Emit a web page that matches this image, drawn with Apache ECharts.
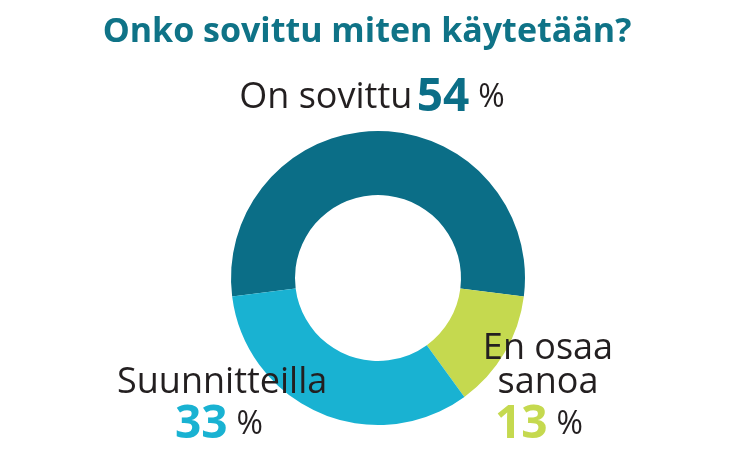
<!DOCTYPE html><html><head><meta charset="utf-8"><script src="https://cdn.jsdelivr.net/npm/echarts@6/dist/echarts.min.js"></script></head><body style="margin:0"><div id="c" style="width:734px;height:459px"></div><script>
const categories=['On sovittu','En osaa sanoa','Suunnitteilla'];
const values=[54,13,33];
const colors=['#0b6e87','#c5d94f','#19b2d2'];
const ch=echarts.init(document.getElementById('c'));
const R={t:{fontSize:36,fill:'#231f20',fontFamily:'Open Sans'},n:{fontSize:46,fontWeight:'bold',fontFamily:'Open Sans'},p:{fontSize:32,fill:'#231f20',fontFamily:'Open Sans'},s:{fontSize:16}};
const rich=c=>({t:R.t,p:R.p,s:R.s,n:Object.assign({},R.n,{fill:c})});
ch.setOption({
title:{text:'Onko sovittu miten käytetään?',left:'center',top:10,textStyle:{fontSize:34,fontWeight:'bold',color:'#0f7387',fontFamily:'Open Sans'}},
graphic:[
{type:'text',z:100,x:372,y:98,style:{text:'{t|'+categories[0]+'}{s| }{n|'+values[0]+'}{s|  }{p|%}',align:'center',verticalAlign:'middle',rich:rich(colors[0])}},
{type:'text',z:100,x:117,y:383,style:{text:categories[2],align:'left',verticalAlign:'middle',fill:'#231f20',fontSize:36,fontFamily:'Open Sans'}},
{type:'text',z:100,x:175,y:425,style:{text:'{n|'+values[2]+'}{s|  }{p|%}',verticalAlign:'middle',rich:rich(colors[2])}},
{type:'text',z:100,x:548,y:366,style:{text:'En osaa\nsanoa',align:'center',verticalAlign:'middle',fill:'#231f20',fontSize:36,lineHeight:34,fontFamily:'Open Sans'}},
{type:'text',z:100,x:495,y:425,style:{text:'{n|'+values[1]+'}{s|  }{p|%}',verticalAlign:'middle',rich:rich(colors[1])}}
],
series:[{type:'pie',z:1,center:[378,278],radius:[83,147],startAngle:187.2,clockwise:true,label:{show:false},silent:true,
data:categories.map((c,i)=>({name:c,value:values[i],itemStyle:{color:colors[i]}}))}]
});
</script></body></html>
